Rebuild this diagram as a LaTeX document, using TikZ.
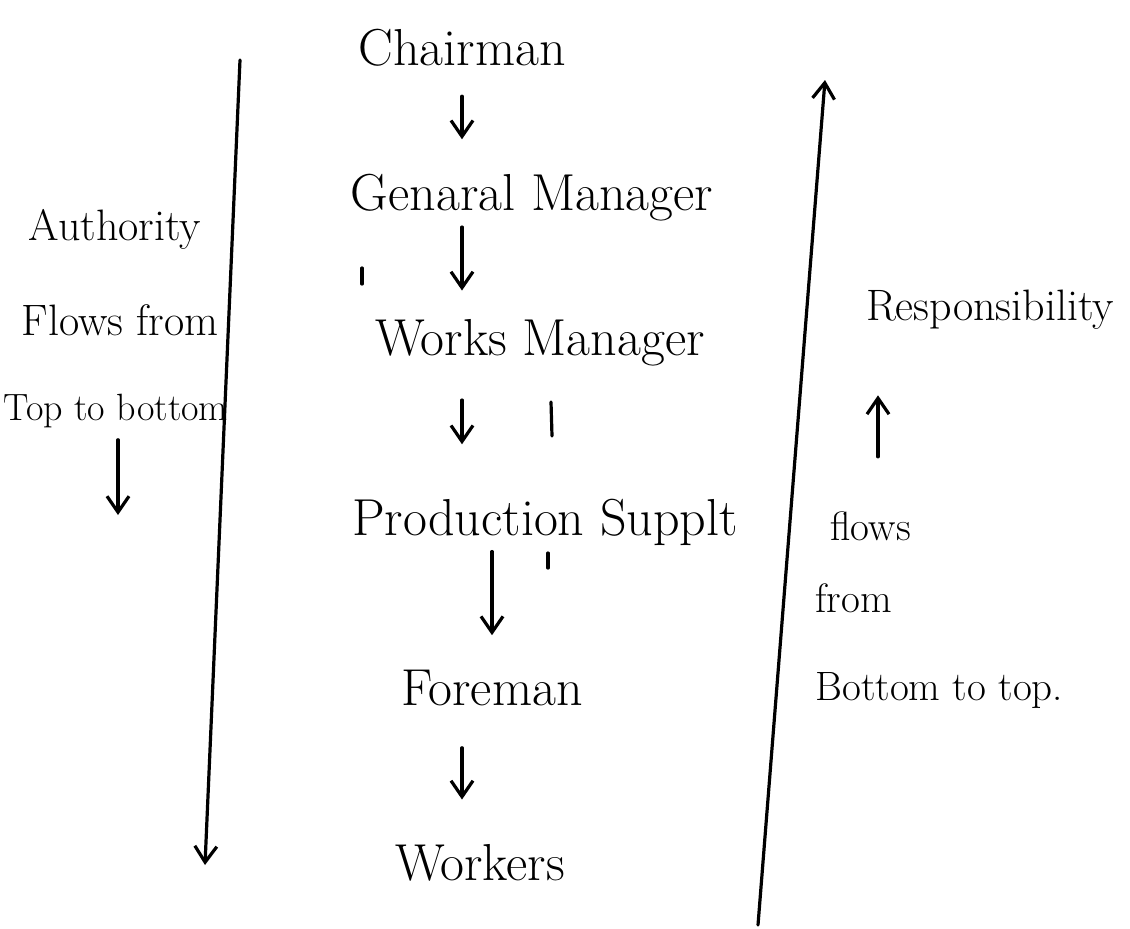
\documentclass[tikz,border=0pt]{standalone}
\usetikzlibrary{arrows.meta}
\begin{document}
\begin{tikzpicture}[x=0.5pt,y=-0.5pt,
  ink/.style={line width=1.6pt, line cap=round, line join=round},
  arr/.style={ink, -{Straight Barb[length=8pt,width=11pt]}},
  rank/.style={inner sep=0pt, anchor=base, font=\fontsize{26}{30}\selectfont},
  note/.style={inner sep=0pt, anchor=base, font=\fontsize{22}{26}\selectfont},
  notel/.style={inner sep=0pt, anchor=base west, font=\fontsize{20.5}{24}\selectfont}]
\useasboundingbox (0,0) rectangle (1130,928);
\fill[white] (0,0) rectangle (1130,928);

% chain of command
\node[rank] (chair) at (462,65)  {Chairman};
\node[rank] (gm)    at (532,210) {Genaral Manager};
\node[rank] (wm)    at (540,355) {Works Manager};
\node[rank] (ps)    at (545,535) {Production Supplt};
\node[rank] (fm)    at (492,705) {Foreman};
\node[rank] (wk)    at (480,880) {Workers};

\draw[arr, shorten <=15pt, shorten >=17pt] (chair.south) -- (chair.south |- gm.north);
\draw[arr, shorten <=3pt,  shorten >=14pt] (gm.south -| chair.south) -- (wm.north -| chair.south);
\draw[arr, shorten <=17pt, shorten >=27pt] (wm.south -| chair.south) -- (ps.north -| chair.south);
\draw[arr, shorten <=3pt,  shorten >=17pt] (ps.south -| fm.north) -- (fm.north);
\draw[arr, shorten <=21pt, shorten >=22pt] (fm.south -| chair.south) -- (wk.north -| chair.south);

% stray pen ticks
\draw[ink] (362,268) -- (362,284);
\draw[ink] (551,402) -- (552,436);
\draw[ink] (548,553) -- (548,568);

% authority, downward
\node[note] (auth)  at (115,240) {Authority};
\node[note] (flw)   at (120,335) {Flows from};
\node[note, font=\fontsize{19}{22}\selectfont] (tb) at (116,420) {Top to bottom};
\coordinate (tbend) at (118,515);
\draw[arr, shorten <=6pt] (tb.south -| tbend) -- (tbend);
\coordinate (Ltop) at (240,60);
\coordinate (Lbot) at (205,865);
\draw[arr] (Ltop) -- (Lbot);

% responsibility, upward
\node[rank, font=\fontsize{22}{26}\selectfont] (resp) at (990,320) {Responsibility};
\node[notel] (rflows) at (830,540) {flows};
\node[notel] (rfrom)  at (815,612) {from};
\node[notel] (rbt)    at (815,700) {Bottom to top.};
\coordinate (upx) at (878,0);
\draw[arr, shorten <=27pt, shorten >=33pt] (rflows.north -| upx) -- (resp.south -| upx);
\coordinate (Rbot) at (758,925);
\coordinate (Rtop) at (825,80);
\draw[arr] (Rbot) -- (Rtop);
\end{tikzpicture}
\end{document}
